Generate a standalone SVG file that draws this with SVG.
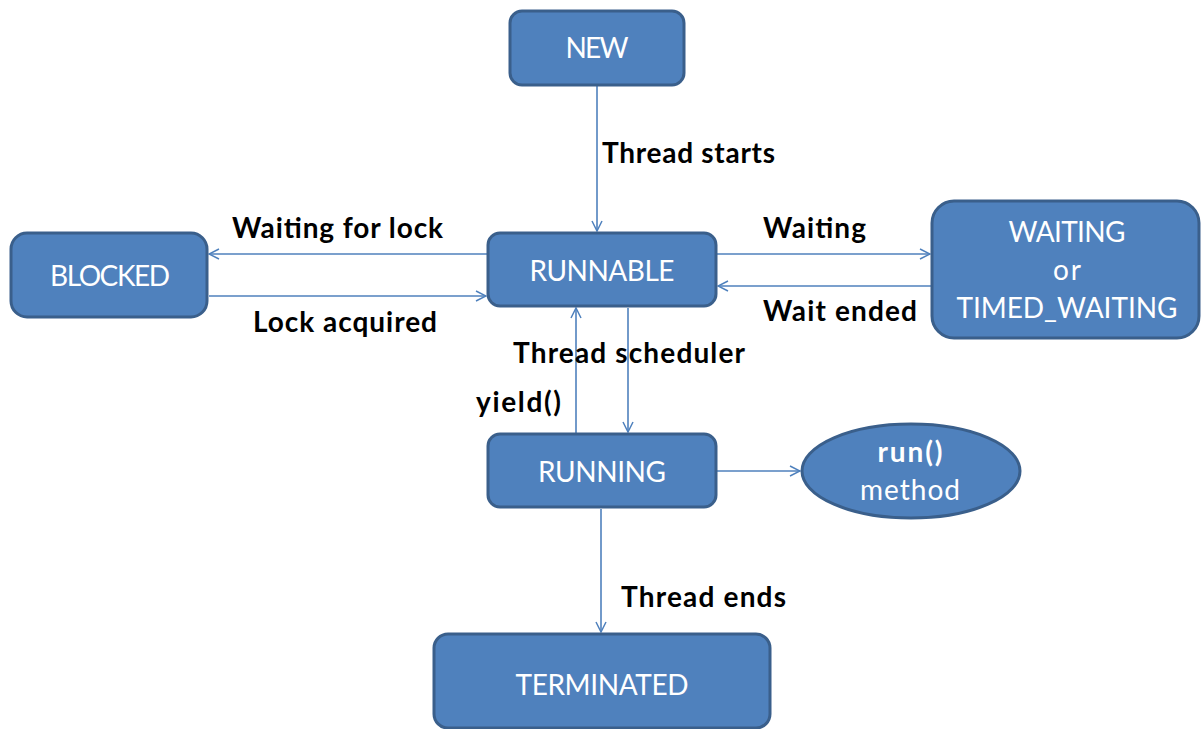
<svg xmlns="http://www.w3.org/2000/svg" width="1201" height="729" viewBox="0 0 1201 729">
  <style>
    .state { fill: #4F81BD; stroke: #3A5F8B; stroke-width: 3; }
    .name { font-family: Lato, "Open Sans", "Liberation Sans", sans-serif; font-size: 28px; fill: #FFFFFF; text-anchor: middle; }
    .label { font-family: Lato, "Liberation Sans", sans-serif; font-size: 28px; font-weight: bold; fill: #000000; }
    .edge { stroke: #4F81BD; stroke-width: 1.6; fill: none; marker-end: url(#open); }
  </style>
  <defs>
    <marker id="open" viewBox="0 0 12 12" refX="11" refY="6" markerWidth="12" markerHeight="12" markerUnits="userSpaceOnUse" orient="auto">
      <path d="M1,1 L11,6 L1,11" fill="none" stroke="#4F81BD" stroke-width="1.5"/>
    </marker>
  </defs>
  <rect width="1201" height="729" fill="#FFFFFF"/>

  <g id="connectors">
    <line class="edge" x1="597" y1="86" x2="597" y2="231"/>
    <line class="edge" x1="487" y1="254" x2="209" y2="254"/>
    <line class="edge" x1="209" y1="296" x2="486" y2="296"/>
    <line class="edge" x1="717" y1="254" x2="930" y2="254"/>
    <line class="edge" x1="931" y1="286" x2="718" y2="286"/>
    <line class="edge" x1="576" y1="433" x2="576" y2="308"/>
    <line class="edge" x1="628" y1="308" x2="628" y2="432"/>
    <line class="edge" x1="717" y1="471" x2="800" y2="471"/>
    <line class="edge" x1="601" y1="509" x2="601" y2="632"/>
  </g>

  <g id="labels">
    <text class="label" x="602" y="163" textLength="173">Thread starts</text>
    <text class="label" x="232" y="238" textLength="211">Waiting for lock</text>
    <text class="label" x="253" y="332" textLength="184">Lock acquired</text>
    <text class="label" x="763" y="238" textLength="103">Waiting</text>
    <text class="label" x="763" y="321" textLength="154">Wait ended</text>
    <text class="label" x="513" y="363" textLength="232">Thread scheduler</text>
    <text class="label" x="476" y="412" textLength="85">yield()</text>
    <text class="label" x="621" y="607" textLength="165">Thread ends</text>
  </g>

  <g id="node-new">
    <rect class="state" x="510" y="11" width="174" height="74" rx="12"/>
    <text class="name" x="597" y="58" textLength="63">NEW</text>
  </g>
  <g id="node-blocked">
    <rect class="state" x="11" y="233" width="196" height="84" rx="16"/>
    <text class="name" x="110" y="286" textLength="120">BLOCKED</text>
  </g>
  <g id="node-runnable">
    <rect class="state" x="488" y="233" width="228" height="73" rx="12"/>
    <text class="name" x="602" y="281" textLength="145">RUNNABLE</text>
  </g>
  <g id="node-waiting">
    <rect class="state" x="932" y="201" width="267" height="137" rx="22"/>
    <text class="name" x="1067" y="242" textLength="117">WAITING</text>
    <text class="name" x="1067" y="280" textLength="28">or</text>
    <text class="name" x="1067" y="318" textLength="221">TIMED_WAITING</text>
  </g>
  <g id="node-running">
    <rect class="state" x="488" y="434" width="228" height="73" rx="12"/>
    <text class="name" x="602" y="482" textLength="128">RUNNING</text>
  </g>
  <g id="node-run-method">
    <ellipse class="state" cx="911" cy="471" rx="109" ry="47"/>
    <text class="name" x="910" y="462" font-weight="bold" textLength="65">run()</text>
    <text class="name" x="910" y="500" textLength="100">method</text>
  </g>
  <g id="node-terminated">
    <rect class="state" x="434" y="634" width="336" height="94" rx="14"/>
    <text class="name" x="602" y="695" textLength="173">TERMINATED</text>
  </g>
</svg>
